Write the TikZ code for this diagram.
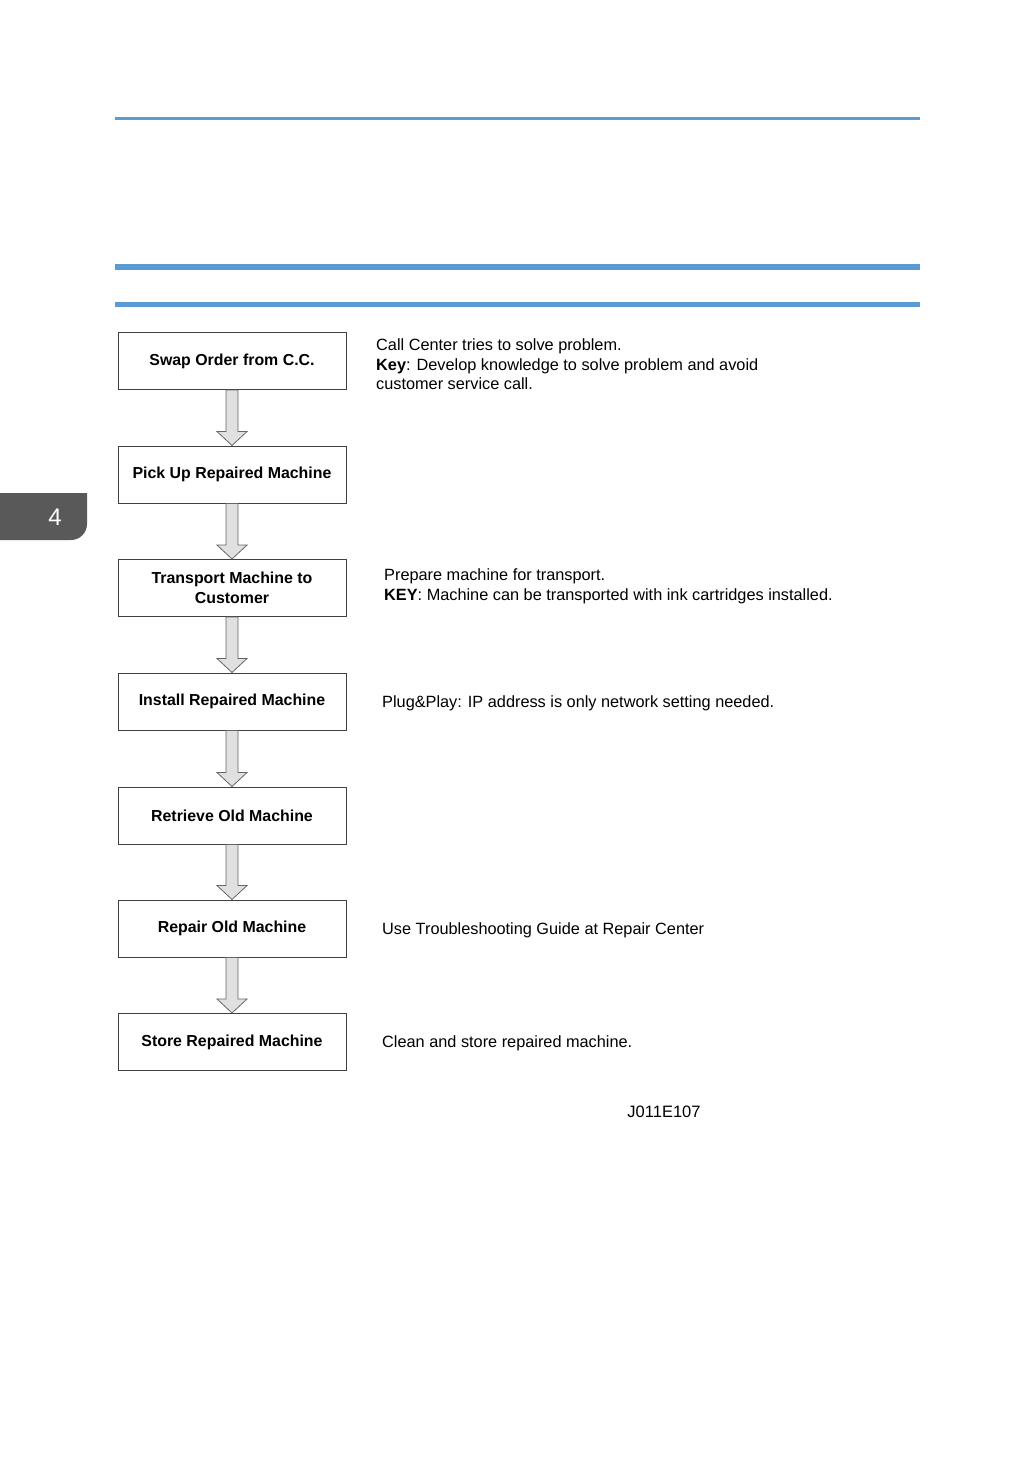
\documentclass[tikz,border=0pt]{standalone}
\usepackage{fontspec}
\setmainfont{Liberation Sans}
\usetikzlibrary{calc}
\definecolor{rulebl}{HTML}{5B9BD5}
\definecolor{tabgray}{HTML}{595959}
\tikzset{
  stepbox/.style={draw=black!75, line width=1pt, minimum width=228pt, minimum height=57pt, inner sep=0pt, align=center, font=\fontsize{15.9pt}{19.5pt}\selectfont\bfseries},
  note/.style={anchor=west, align=left, inner sep=0pt, font=\fontsize{16.3pt}{19.5pt}\selectfont},
  blockarr/.style={draw=black!60, fill=black!12, line width=0.8pt, line join=miter}
}
\newcommand{\blockarrow}[2]{%
  \path[blockarr] ($(#1.south)+(-6,0)$) -- ($(#2.north)+(-6,-14)$) -- ($(#2.north)+(-15,-14)$) -- (#2.north) -- ($(#2.north)+(15,-14)$) -- ($(#2.north)+(6,-14)$) -- ($(#1.south)+(6,0)$) -- cycle;}
\begin{document}
\begin{tikzpicture}[x=1pt,y=-1pt]
\useasboundingbox (0,0) rectangle (1036,1470);
% rules
\draw[rulebl, line width=3pt] (115,118) -- (920,118);
\draw[rulebl, line width=5.5pt] (115,267) -- (920,267);
\draw[rulebl, line width=5.5pt] (115,304.5) -- (920,304.5);
% tab
\fill[tabgray] (0,493) -- (87,493) -- (87,524) arc[start angle=0, end angle=-90, radius=16pt] -- (0,540) -- cycle;
\node[text=white, font=\fontsize{24pt}{24pt}\selectfont] (tab) at (55,517) {4};
% boxes
\node[stepbox] (b1) at (232,361) {Swap Order from C.C.};
\node[stepbox] (b2) at (232,474.5) {Pick Up Repaired Machine};
\node[stepbox] (b3) at (232,588) {Transport Machine to\\Customer};
\node[stepbox] (b4) at (232,701.5) {Install Repaired Machine};
\node[stepbox] (b5) at (232,815.5) {Retrieve Old Machine};
\node[stepbox] (b6) at (232,928.5) {Repair Old Machine};
\node[stepbox] (b7) at (232,1042) {Store Repaired Machine};
\blockarrow{b1}{b2}
\blockarrow{b2}{b3}
\blockarrow{b3}{b4}
\blockarrow{b4}{b5}
\blockarrow{b5}{b6}
\blockarrow{b6}{b7}
% notes
\node[note] (n1) at (376,364.5) {Call Center tries to solve problem.\\\textbf{Key}: Develop knowledge to solve problem and avoid\\customer service call.};
\node[note] (n3) at (384,586.5) {Prepare machine for transport.\\\textbf{KEY}: Machine can be transported with ink cartridges installed.};
\node[note] (n4) at (382,703) {Plug\&Play: IP address is only network setting needed.};
\node[note] (n6) at (382,930) {Use Troubleshooting Guide at Repair Center};
\node[note] (n7) at (382,1043.5) {Clean and store repaired machine.};
\node[font=\fontsize{16.5pt}{18pt}\selectfont] (code) at (664,1112) {J011E107};
\end{tikzpicture}
\end{document}
